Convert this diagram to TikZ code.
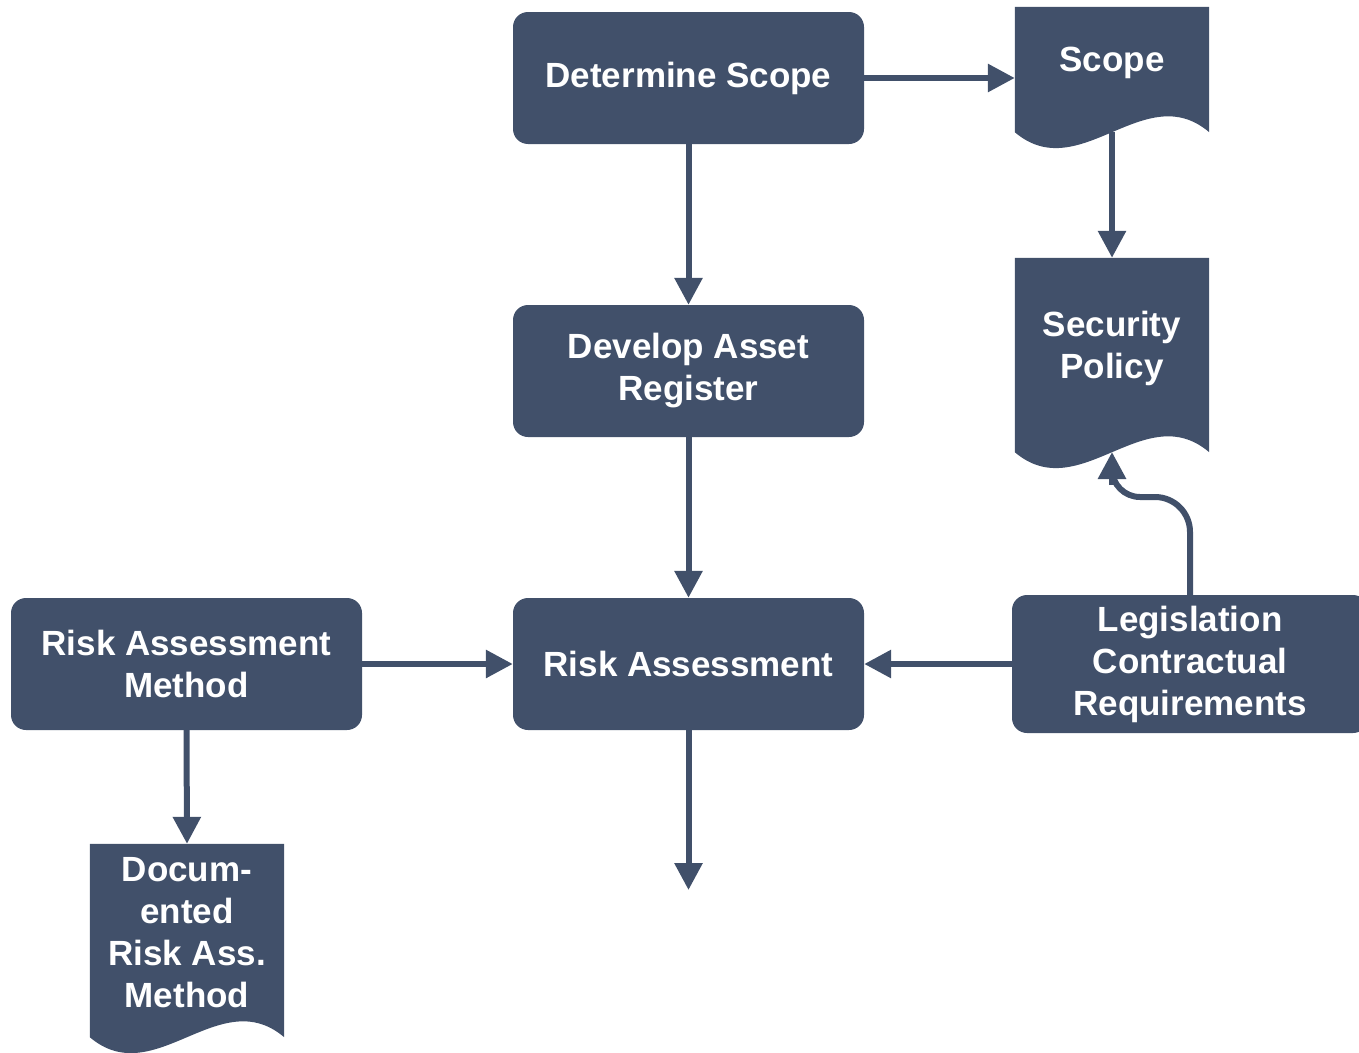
\documentclass[tikz,border=0pt]{standalone}
\usepackage{fontspec}
\setmainfont{Liberation Sans}
\usetikzlibrary{arrows.meta}
\definecolor{navy}{RGB}{65,80,106}
\begin{document}
\begin{tikzpicture}[x=1pt,y=-1pt,
  lbl/.style={text=white, font=\bfseries\fontsize{35}{42}\selectfont, align=center, inner sep=0pt},
  box/.style={lbl, fill=navy, rounded corners=15pt, minimum width=351pt, minimum height=132pt},
  docarea/.style={minimum width=194pt, inner sep=0pt},
  docfill/.style={fill=navy},
  conn/.style={draw=navy, line width=6pt},
  arr/.style={conn, -{Triangle[length=27pt,width=27pt]}},
]
\useasboundingbox (0,0) rectangle (1359,1052);

% process boxes
\node[box] (ds) at (688.5,78) {Determine Scope};
\node[box] (dar) at (688.5,371) {Develop Asset\\Register};
\node[box] (ra) at (688.5,664) {Risk Assessment};
\node[box] (ram) at (186.5,664) {Risk Assessment\\Method};
\node[box, minimum width=356pt, minimum height=138pt] (leg) at (1190,664) {Legislation\\Contractual\\Requirements};

% document shapes
\node[docarea, minimum height=125pt] (scope) at (1112,69.5) {};
\path[docfill] (scope.north west) -- (scope.north east) -- (scope.south east)
  .. controls +(-64.7,-55) and +(64.7,55) .. (scope.south west) -- cycle;
\node[lbl] (scopet) at (1112,63) {Scope};

\node[docarea, minimum height=194pt] (secpol) at (1112,355) {};
\path[docfill] (secpol.north west) -- (secpol.north east) -- (secpol.south east)
  .. controls +(-64.7,-55) and +(64.7,55) .. (secpol.south west) -- cycle;
\node[lbl] (secpolt) at (1112,348) {Security\\Policy};

\node[docarea, minimum height=193pt] (docm) at (187,940.5) {};
\path[docfill] (docm.north west) -- (docm.north east) -- (docm.south east)
  .. controls +(-64.7,-55) and +(64.7,55) .. (docm.south west) -- cycle;
\node[lbl] (docmt) at (187,933) {Docum-\\ented\\Risk Ass.\\Method};

% connectors
\draw[arr] (ds.east) -- (ds.east -| scope.west);
\draw[arr] (scope.south) -- (secpol.north);
\draw[arr] (ds.south) -- (dar.north);
\draw[arr] (dar.south) -- (ra.north);
\draw[arr] (ram.east) -- (ra.west);
\draw[arr] (leg.west) -- (ra.east);
\draw[arr] (ram.south) -- (docm.north);
\coordinate (raend) at (688.5,890);
\draw[arr] (ra.south) -- (raend);

% curved connector legislation -> security policy
\coordinate (sptip) at (1112,452);
\draw[conn] (leg.north) -- (1190,532) arc[start angle=0, end angle=-90, radius=35]
  -- (1140,497) arc[start angle=90, end angle=180, radius=28];
\draw[arr] (1112,485) -- (sptip);
\end{tikzpicture}
\end{document}
